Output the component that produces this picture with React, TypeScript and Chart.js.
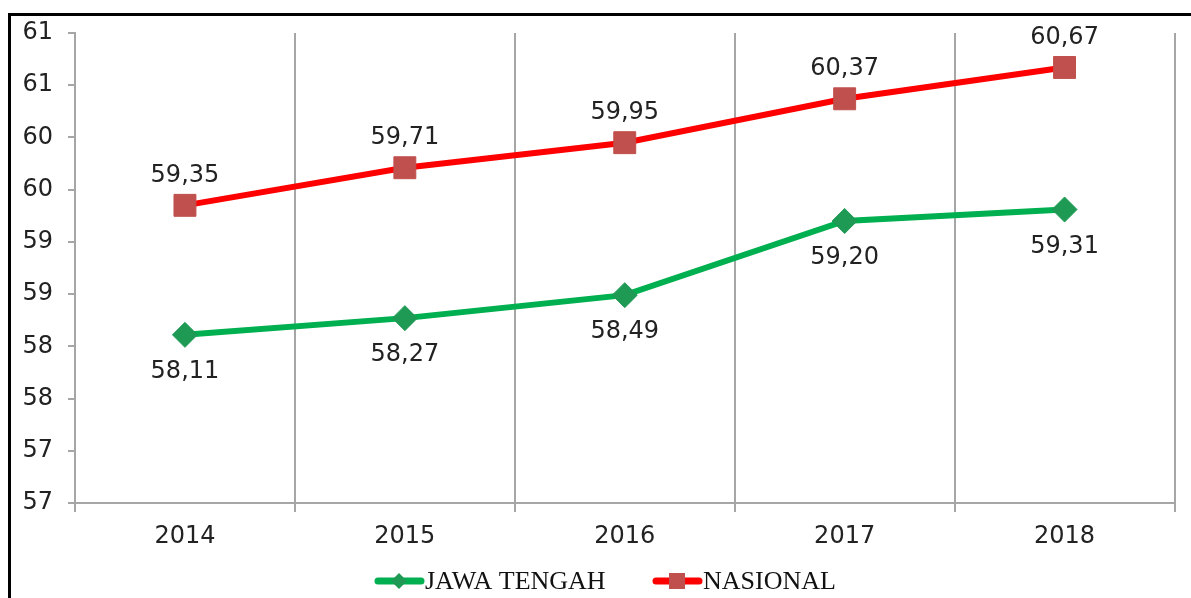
import React, { useEffect, useRef } from 'react';
import { Chart, registerables } from 'chart.js';

Chart.register(...registerables);

const years = ['2014', '2015', '2016', '2017', '2018'];
const jawaTengah = [58.11, 58.27, 58.49, 59.2, 59.31];
const nasional = [59.35, 59.71, 59.95, 60.37, 60.67];
const seriesNames = ['JAWA TENGAH', 'NASIONAL'];
const yMin = 56.5;
const yMax = 61;
const yStep = 0.5;

const TICK_FONT = '"DejaVu Sans", Verdana, sans-serif';
const LEGEND_FONT = '"Liberation Serif", "Times New Roman", serif';

const valueLabels = {
  id: 'valueLabels',
  afterDatasetsDraw(chart: any) {
    const ctx = chart.ctx;
    chart.data.datasets.forEach((ds: any, i: number) => {
      const meta = chart.getDatasetMeta(i);
      ctx.save();
      ctx.font = `24px ${TICK_FONT}`;
      ctx.fillStyle = '#222222';
      ctx.textAlign = 'center';
      ctx.textBaseline = 'middle';
      meta.data.forEach((pt: any, j: number) => {
        const v = ds.data[j] as number;
        ctx.fillText(v.toFixed(2).replace('.', ','), pt.x, pt.y + ds.labelOffset);
      });
      ctx.restore();
    });
  },
};

const customLegend = {
  id: 'customLegend',
  afterDraw(chart: any) {
    const ctx = chart.ctx;
    const y = 581;
    const starts = [375, 653];
    chart.data.datasets.forEach((ds: any, i: number) => {
      const x0 = starts[i];
      ctx.save();
      ctx.strokeStyle = ds.borderColor;
      ctx.lineWidth = 7;
      ctx.lineCap = 'round';
      ctx.beginPath();
      ctx.moveTo(x0 + 3, y);
      ctx.lineTo(x0 + 46, y);
      ctx.stroke();
      const cx = x0 + 24;
      ctx.fillStyle = ds.pointBackgroundColor;
      if (ds.pointStyle === 'rectRot') {
        const r = 8;
        ctx.beginPath();
        ctx.moveTo(cx, y - r);
        ctx.lineTo(cx + r, y);
        ctx.lineTo(cx, y + r);
        ctx.lineTo(cx - r, y);
        ctx.closePath();
        ctx.fill();
      } else {
        ctx.fillRect(cx - 8, y - 8, 16, 16);
      }
      ctx.font = `26px ${LEGEND_FONT}`;
      ctx.fillStyle = '#111111';
      ctx.textAlign = 'left';
      ctx.textBaseline = 'middle';
      ctx.fillText(ds.label, x0 + 50, y + 1);
      ctx.restore();
    });
  },
};

export default function App() {
  const ref = useRef<HTMLCanvasElement | null>(null);

  useEffect(() => {
    if (!ref.current) return;
    const chart = new Chart(ref.current, {
      type: 'line',
      data: {
        labels: years,
        datasets: [
          {
            label: seriesNames[0],
            data: jawaTengah,
            borderColor: '#00b050',
            backgroundColor: '#1f9a55',
            borderWidth: 6,
            pointStyle: 'rectRot',
            pointRadius: 12.5,
            pointHoverRadius: 12.5,
            pointBackgroundColor: '#1f9a55',
            pointBorderColor: '#1f9a55',
            pointBorderWidth: 1,
            tension: 0,
            labelOffset: 37,
          } as any,
          {
            label: seriesNames[1],
            data: nasional,
            borderColor: '#ff0000',
            backgroundColor: '#c0504d',
            borderWidth: 6,
            pointStyle: 'rect',
            pointRadius: 15.5,
            pointHoverRadius: 15.5,
            pointBackgroundColor: '#c0504d',
            pointBorderColor: '#c0504d',
            pointBorderWidth: 1,
            tension: 0,
            labelOffset: -30,
          } as any,
        ],
      },
      options: {
        animation: false,
        responsive: false,
        maintainAspectRatio: false,
        layout: { padding: { left: 12, top: 33, right: 14, bottom: 45 } },
        plugins: {
          legend: { display: false },
          tooltip: { enabled: false },
        },
        scales: {
          x: {
            type: 'category',
            offset: true,
            grid: {
              offset: true,
              display: true,
              drawOnChartArea: true,
              drawTicks: true,
              tickLength: 9,
              color: '#a6a6a6',
              lineWidth: 2,
            },
            border: { display: true, color: '#a6a6a6', width: 2 },
            ticks: {
              font: { family: TICK_FONT, size: 24 },
              color: '#222222',
              padding: 10,
              maxRotation: 0,
            },
            afterFit: (scale: any) => {
              scale.height = 50;
            },
          },
          y: {
            type: 'linear',
            min: yMin,
            max: yMax,
            grid: {
              display: true,
              drawOnChartArea: false,
              drawTicks: true,
              tickLength: 7,
              color: '#a6a6a6',
              lineWidth: 2,
            },
            border: { display: true, color: '#a6a6a6', width: 2 },
            ticks: {
              stepSize: yStep,
              font: { family: TICK_FONT, size: 24 },
              color: '#222222',
              padding: 15,
              callback: (v: any) => String(Math.round(Number(v))),
            },
            afterFit: (scale: any) => {
              scale.width = 63;
            },
          },
        },
      },
      plugins: [valueLabels, customLegend],
    });
    return () => chart.destroy();
  }, []);

  return (
    <div
      style={{
        position: 'absolute',
        left: 0,
        top: 0,
        width: 1191,
        height: 598,
        overflow: 'hidden',
        background: '#ffffff',
      }}
    >
      <div
        style={{
          position: 'absolute',
          left: 8,
          top: 13,
          width: 1200,
          height: 600,
          borderLeft: '3px solid #000',
          borderTop: '3px solid #000',
        }}
      />
      <canvas
        ref={ref}
        width={1191}
        height={598}
        style={{ position: 'absolute', left: 0, top: 0, width: 1191, height: 598 }}
      />
    </div>
  );
}
